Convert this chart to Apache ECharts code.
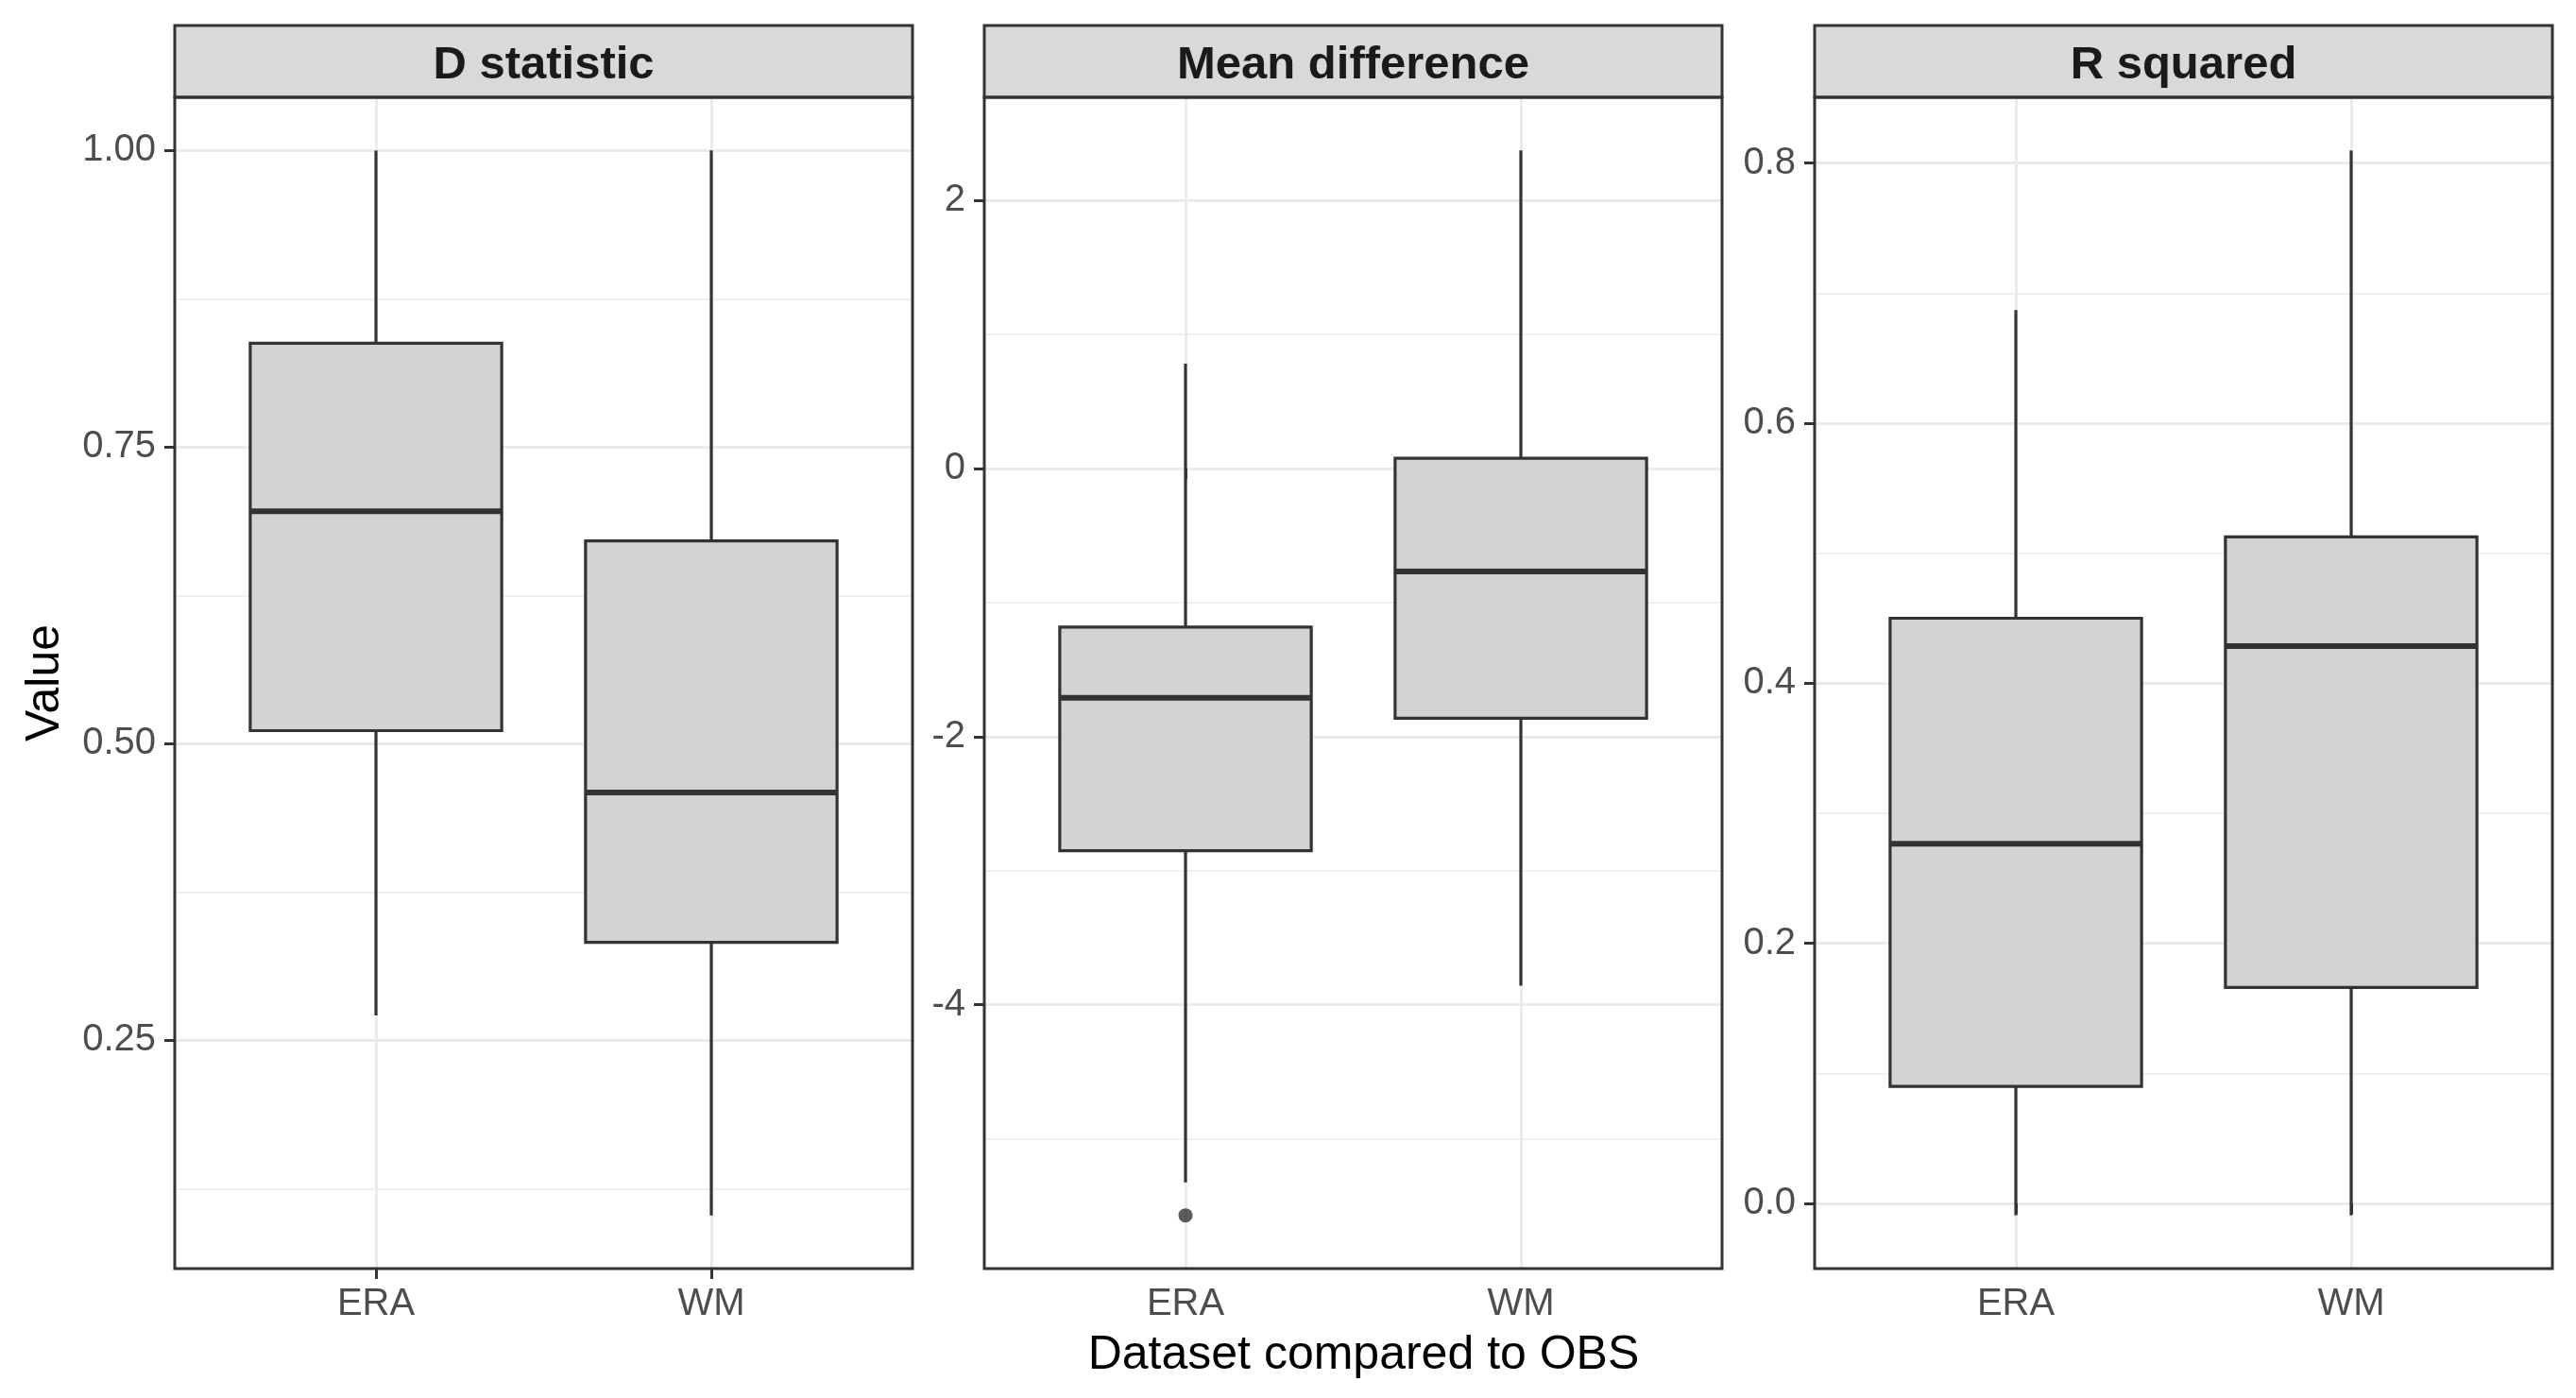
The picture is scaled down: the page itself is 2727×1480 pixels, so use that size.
<!DOCTYPE html>
<html>
<head>
<meta charset="utf-8">
<script src="https://cdn.jsdelivr.net/npm/echarts@6/dist/echarts.min.js"></script>
<style>
html,body{margin:0;padding:0;background:#fff;}
#chart{width:2727px;height:1480px;}
</style>
</head>
<body>
<div id="chart"></div>
<script>
// ---------------- data ----------------
const categories = ['ERA', 'WM'];
const panelTitles = ['D statistic', 'Mean difference', 'R squared'];

// each box: [lower whisker, Q1, median, Q3, upper whisker]
const dStatERA = [0.271, 0.511, 0.696, 0.8375, 1.00];
const dStatWM  = [0.1024, 0.3326, 0.4588, 0.671, 1.00];
const dStatOutliers = [];

const meanDiffERA = [-5.327, -2.852, -1.711, -1.183, 0.782];
const meanDiffWM  = [-3.859, -1.863, -0.768, 0.077, 2.373];
const meanDiffOutliers = [[1, -5.572]];

const rSqERA = [-0.0092, 0.090, 0.2765, 0.450, 0.687];
const rSqWM  = [-0.0092, 0.166, 0.4286, 0.5126, 0.8097];
const rSqOutliers = [];

const dStatTicks = [0.25, 0.50, 0.75, 1.00];
const dStatTickLabels = ['0.25', '0.50', '0.75', '1.00'];
const dStatMinor = [0.125, 0.375, 0.625, 0.875];

const meanDiffTicks = [-4, -2, 0, 2];
const meanDiffTickLabels = ['-4', '-2', '0', '2'];
const meanDiffMinor = [-5, -3, -1, 1];

const rSqTicks = [0.0, 0.2, 0.4, 0.6, 0.8];
const rSqTickLabels = ['0.0', '0.2', '0.4', '0.6', '0.8'];
const rSqMinor = [0.1, 0.3, 0.5, 0.7];

const xTitle = 'Dataset compared to OBS';
const yTitle = 'Value';

// ---------------- layout / style ----------------
const FONT = '"Liberation Sans", Arial, sans-serif';
const panelLeft = [185, 1042, 1921];
const panelW = 781;
const panelTop = 103;
const panelBottom = 1343;
const stripTop = 27;
const H = 1480;

const panels = [
  {boxes: [dStatERA, dStatWM], out: dStatOutliers, ticks: dStatTicks, labels: dStatTickLabels, minor: dStatMinor},
  {boxes: [meanDiffERA, meanDiffWM], out: meanDiffOutliers, ticks: meanDiffTicks, labels: meanDiffTickLabels, minor: meanDiffMinor},
  {boxes: [rSqERA, rSqWM], out: rSqOutliers, ticks: rSqTicks, labels: rSqTickLabels, minor: rSqMinor}
];

function renderBox(params, api) {
  const x = api.value(0);
  const lo = api.value(1), q1 = api.value(2), med = api.value(3), q3 = api.value(4), hi = api.value(5);
  const hw = 0.375;
  const pHi = api.coord([x, hi]);
  const pQ3 = api.coord([x, q3]);
  const pQ1 = api.coord([x, q1]);
  const pLo = api.coord([x, lo]);
  const pTL = api.coord([x - hw, q3]);
  const pBR = api.coord([x + hw, q1]);
  const pML = api.coord([x - hw, med]);
  const pMR = api.coord([x + hw, med]);
  const stroke = '#333333';
  return {
    type: 'group',
    children: [
      {type: 'line', shape: {x1: pHi[0], y1: pHi[1], x2: pQ3[0], y2: pQ3[1]}, style: {stroke: stroke, lineWidth: 3.2}},
      {type: 'line', shape: {x1: pQ1[0], y1: pQ1[1], x2: pLo[0], y2: pLo[1]}, style: {stroke: stroke, lineWidth: 3.2}},
      {type: 'rect', shape: {x: pTL[0], y: pTL[1], width: pBR[0] - pTL[0], height: pBR[1] - pTL[1]},
        style: {fill: '#D3D3D3', stroke: stroke, lineWidth: 3.2}},
      {type: 'line', shape: {x1: pML[0], y1: pML[1], x2: pMR[0], y2: pMR[1]}, style: {stroke: stroke, lineWidth: 6}}
    ]
  };
}

const grids = [], xAxes = [], yAxes = [], series = [], graphics = [];

panels.forEach((p, i) => {
  grids.push({left: panelLeft[i], width: panelW, top: panelTop, bottom: H - panelBottom, containLabel: false});
  // data range with 5% expansion (ggplot default)
  let vals = [];
  p.boxes.forEach(b => { vals = vals.concat(b); });
  p.out.forEach(o => vals.push(o[1]));
  const dmin = Math.min(...vals), dmax = Math.max(...vals);
  const pad = (dmax - dmin) * 0.05;
  const ymin = dmin - pad, ymax = dmax + pad;

  xAxes.push({
    type: 'value', gridIndex: i, min: 0.4, max: 2.6,
    axisLine: {show: false},
    axisTick: {show: true, length: 11, lineStyle: {color: '#333333', width: 3}, customValues: [1, 2]},
    axisLabel: {show: true, customValues: [1, 2], margin: 18, color: '#4D4D4D', fontSize: 40, fontFamily: FONT,
      formatter: v => categories[Math.round(v) - 1]},
    splitLine: {show: true, lineStyle: {color: '#EBEBEB', width: 3}}
  });
  yAxes.push({
    type: 'value', gridIndex: i, min: ymin, max: ymax,
    axisLine: {show: false},
    axisTick: {show: true, length: 11, lineStyle: {color: '#333333', width: 3}, customValues: p.ticks},
    axisLabel: {show: true, customValues: p.ticks, margin: 20, color: '#4D4D4D', fontSize: 40, fontFamily: FONT,
      formatter: v => { const k = p.ticks.findIndex(t => Math.abs(t - v) < 1e-9); return k >= 0 ? p.labels[k] : ''; }},
    splitLine: {show: true, lineStyle: {color: '#EBEBEB', width: 3}}
  });
  // minor grid lines
  yAxes.push({
    type: 'value', gridIndex: i, min: ymin, max: ymax, position: 'left',
    axisLine: {show: false},
    axisTick: {show: false, customValues: p.minor},
    axisLabel: {show: false, customValues: p.minor},
    splitLine: {show: true, lineStyle: {color: '#EBEBEB', width: 1.7}}
  });
  const yIdx = i * 2;
  series.push({
    type: 'custom', xAxisIndex: i, yAxisIndex: yIdx,
    renderItem: renderBox,
    encode: {x: 0, y: [1, 2, 3, 4, 5]},
    data: p.boxes.map((b, k) => [k + 1].concat(b)),
    z: 3
  });
  if (p.out.length) {
    series.push({
      type: 'scatter', xAxisIndex: i, yAxisIndex: yIdx,
      symbol: 'circle', symbolSize: 15,
      itemStyle: {color: '#333333'},
      data: p.out, z: 4
    });
  }
  // strip
  graphics.push({
    type: 'rect', z: 10,
    shape: {x: panelLeft[i], y: stripTop, width: panelW, height: panelTop - stripTop},
    style: {fill: '#D9D9D9', stroke: '#333333', lineWidth: 3}
  });
  graphics.push({
    type: 'text', z: 11,
    x: panelLeft[i] + panelW / 2, y: (stripTop + panelTop) / 2 + 4,
    style: {text: panelTitles[i], fill: '#1A1A1A', font: 'bold 49px ' + FONT, textAlign: 'center', textVerticalAlign: 'middle'}
  });
  // panel border
  graphics.push({
    type: 'rect', z: 10,
    shape: {x: panelLeft[i], y: panelTop, width: panelW, height: panelBottom - panelTop},
    style: {fill: 'none', stroke: '#333333', lineWidth: 3}
  });
});

graphics.push({
  type: 'text', z: 11,
  x: (panelLeft[0] + panelLeft[2] + panelW) / 2, y: 1435,
  style: {text: xTitle, fill: '#000000', font: '50px ' + FONT, textAlign: 'center', textVerticalAlign: 'middle'}
});
graphics.push({
  type: 'text', z: 11,
  x: 48, y: (panelTop + panelBottom) / 2, rotation: Math.PI / 2,
  style: {text: yTitle, fill: '#000000', font: '50px ' + FONT, textAlign: 'center', textVerticalAlign: 'middle'}
});

const chart = echarts.init(document.getElementById('chart'), null, {renderer: 'canvas'});
chart.setOption({
  backgroundColor: '#ffffff',
  animation: false,
  grid: grids,
  xAxis: xAxes,
  yAxis: yAxes,
  series: series,
  graphic: {elements: graphics}
});
</script>
</body>
</html>
